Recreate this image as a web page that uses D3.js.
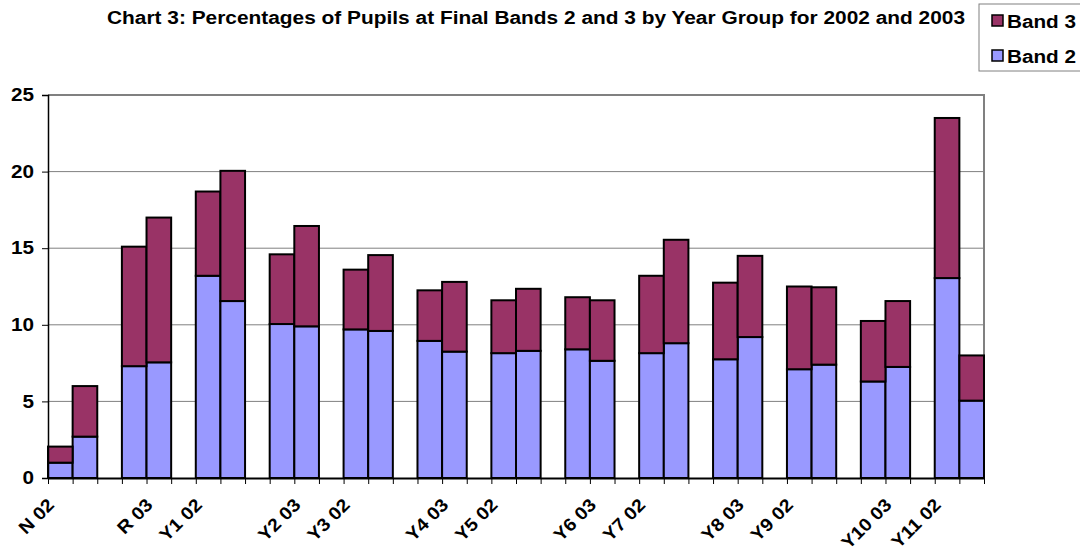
<!DOCTYPE html>
<html lang="en">
<head>
    <meta charset="UTF-8">
    <title>Chart 3: Percentages of Pupils at Final Bands 2 and 3</title>
    <script src="https://d3js.org/d3.v7.min.js"></script>
    <style>
        body { margin: 0; background: #fff; font-family: Arial, "Liberation Sans", sans-serif; }
        text { font-family: Arial, "Liberation Sans", sans-serif; font-weight: bold; fill: #000; }
    </style>
</head>
<body>
    <svg width="1080" height="557"></svg>
    <script>
        // categories (blank slots separate the year groups)
        const categories = ["N 02", "N 03", "", "R 02", "R 03", "", "Y1 02", "Y1 03", "",
                            "Y2 02", "Y2 03", "", "Y3 02", "Y3 03", "", "Y4 02", "Y4 03", "",
                            "Y5 02", "Y5 03", "", "Y6 02", "Y6 03", "", "Y7 02", "Y7 03", "",
                            "Y8 02", "Y8 03", "", "Y9 02", "Y9 03", "", "Y10 02", "Y10 03", "",
                            "Y11 02", "Y11 03"];
        const band2 = [1.0, 2.7, null, 7.3, 7.55, null, 13.2, 11.55, null,
                       10.05, 9.9, null, 9.7, 9.6, null, 8.95, 8.25, null,
                       8.15, 8.3, null, 8.4, 7.65, null, 8.15, 8.8, null,
                       7.75, 9.2, null, 7.1, 7.4, null, 6.3, 7.25, null,
                       13.05, 5.05];
        const band3 = [1.05, 3.3, null, 7.8, 9.45, null, 5.5, 8.5, null,
                       4.55, 6.55, null, 3.9, 4.95, null, 3.3, 4.55, null,
                       3.45, 4.05, null, 3.4, 3.95, null, 5.05, 6.75, null,
                       5.0, 5.3, null, 5.4, 5.05, null, 3.95, 4.3, null,
                       10.45, 2.95];
        const yTicks = [0, 5, 10, 15, 20, 25];
        const series = [
            { name: "Band 2", values: band2, color: "#9999ff" },
            { name: "Band 3", values: band3, color: "#993366" }
        ];

        const margin = { top: 95, right: 96, bottom: 79, left: 48 },
              width = 1080 - margin.left - margin.right,
              height = 557 - margin.top - margin.bottom;

        // the chart's lettering is set a little wider than normal Arial
        function widen(sel, stretch) {
            sel.each(function () {
                const len = this.getComputedTextLength();
                d3.select(this)
                  .attr("textLength", len * stretch)
                  .attr("lengthAdjust", "spacingAndGlyphs");
            });
        }

        const svg = d3.select("svg");
        const g = svg.append("g")
                     .attr("transform", `translate(${margin.left},${margin.top})`);

        const x = d3.scaleBand()
                    .domain(d3.range(categories.length))
                    .range([0, width])
                    .padding(0);
        const xEdge = d3.scaleLinear()
                        .domain([0, categories.length])
                        .range([0, width]);
        const y = d3.scaleLinear()
                    .domain([0, 25])
                    .range([height, 0]);

        // gridlines
        g.append("g")
         .selectAll("line")
         .data(yTicks.slice(1, -1))
         .join("line")
         .attr("x1", 0).attr("x2", width)
         .attr("y1", d => y(d)).attr("y2", d => y(d))
         .attr("stroke", "#808080")
         .attr("stroke-width", 1);

        // plot area border (top + right)
        g.append("path")
         .attr("d", `M0,${y(25)}H${width}V${height}`)
         .attr("fill", "none")
         .attr("stroke", "#808080")
         .attr("stroke-width", 2);

        // stacked bars
        const stackData = categories.map((c, i) => ({ i: i, b2: band2[i], b3: band3[i] }));
        series.forEach((s, si) => {
            g.append("g")
             .selectAll("rect")
             .data(stackData.filter(d => d.b2 != null))
             .join("rect")
             .attr("x", d => x(d.i))
             .attr("width", x.bandwidth())
             .attr("y", d => si === 0 ? y(d.b2) : y(d.b2 + d.b3))
             .attr("height", d => si === 0 ? y(0) - y(d.b2) : y(d.b2) - y(d.b2 + d.b3))
             .attr("fill", s.color)
             .attr("stroke", "#000")
             .attr("stroke-width", 2);
        });

        // y axis
        const yAxis = g.append("g")
                       .call(d3.axisLeft(y).tickValues(yTicks).tickSize(6).tickPadding(8));
        yAxis.select(".domain").attr("stroke", "#000").attr("stroke-width", 1.5);
        yAxis.selectAll(".tick line").attr("stroke", "#000");
        yAxis.selectAll(".tick text")
             .style("font-size", "18px")
             .style("font-weight", "bold")
             .call(widen, 1.15);

        // x axis (ticks at category boundaries)
        const xAxis = g.append("g")
                       .attr("transform", `translate(0,${height})`)
                       .call(d3.axisBottom(xEdge)
                               .tickValues(d3.range(categories.length + 1))
                               .tickFormat("")
                               .tickSize(6)
                               .tickSizeOuter(0));
        xAxis.select(".domain").attr("stroke", "#000").attr("stroke-width", 2);
        xAxis.selectAll(".tick line").attr("stroke", "#000");

        // category labels, every second one, rotated
        g.append("g")
         .selectAll("text")
         .data(categories.map((c, i) => ({ c: c, i: i })).filter(d => d.i % 2 === 0 && d.c !== ""))
         .join("text")
         .attr("transform", d => `translate(${x(d.i) + x.bandwidth() / 2 - 5},${height + 28}) rotate(-45)`)
         .attr("text-anchor", "end")
         .style("font-size", "18px")
         .text(d => d.c)
         .call(widen, 1.09);

        // title
        svg.append("text")
           .attr("x", 107)
           .attr("y", 24)
           .attr("textLength", 858)
           .attr("lengthAdjust", "spacingAndGlyphs")
           .style("font-size", "18px")
           .text("Chart 3: Percentages of Pupils at Final Bands 2 and 3 by Year Group for 2002 and 2003");

        // legend
        const legend = svg.append("g");
        legend.append("rect")
              .attr("x", 979).attr("y", 4)
              .attr("width", 120).attr("height", 67)
              .attr("fill", "#fff")
              .attr("stroke", "#808080")
              .attr("stroke-width", 1);
        const legendItems = series.slice().reverse();
        legendItems.forEach((s, i) => {
            legend.append("rect")
                  .attr("x", 992).attr("y", 15 + i * 35)
                  .attr("width", 11).attr("height", 11)
                  .attr("fill", s.color)
                  .attr("stroke", "#000")
                  .attr("stroke-width", 1.5);
            legend.append("text")
                  .attr("x", 1007).attr("y", 28 + i * 35)
                  .style("font-size", "18px")
                  .text(s.name)
                  .call(widen, 1.15);
        });
    </script>
</body>
</html>
